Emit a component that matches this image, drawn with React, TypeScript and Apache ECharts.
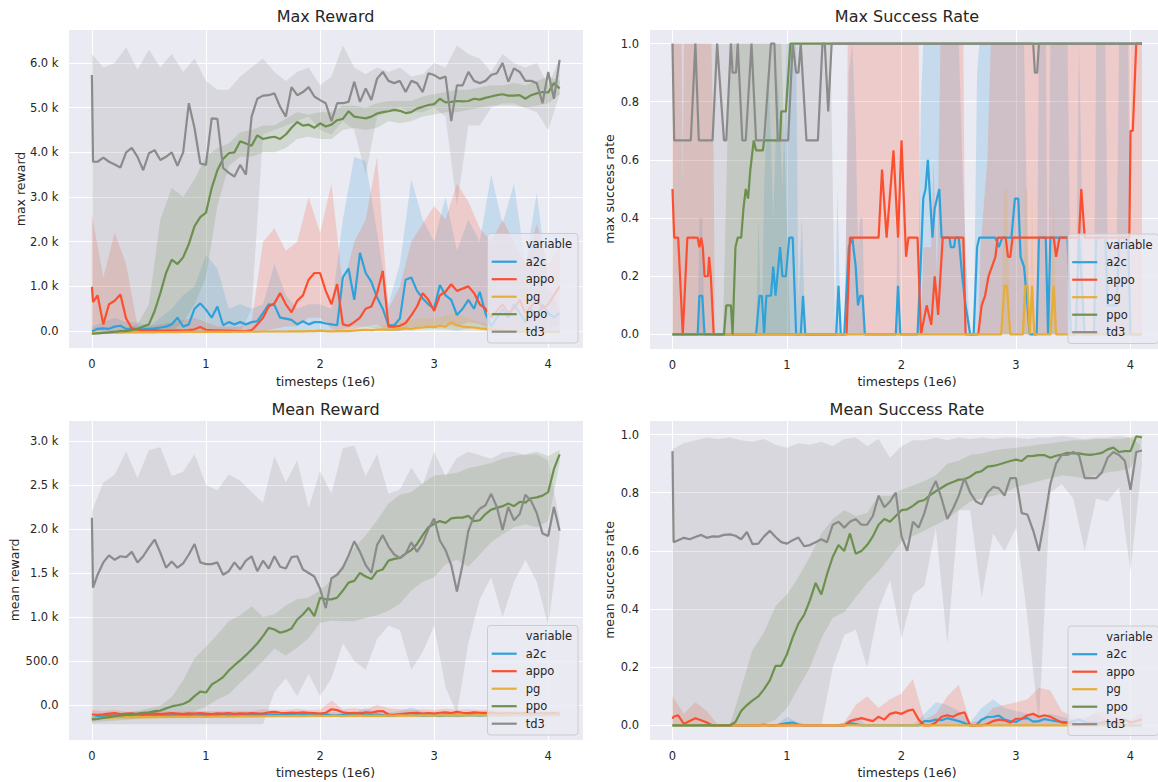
import React, { useEffect, useRef } from "react";
import * as echarts from "echarts";

// ---------- shared x grids (timesteps, 1e6) ----------
const T = [0, 0.01, 0.05, 0.1, 0.15, 0.2, 0.25, 0.3, 0.35, 0.4,
  0.45, 0.5, 0.55, 0.6, 0.65, 0.7, 0.75, 0.8, 0.85, 0.9,
  0.95, 1.0, 1.05, 1.1, 1.15, 1.2, 1.25, 1.3, 1.35, 1.4,
  1.45, 1.5, 1.55, 1.6, 1.65, 1.7, 1.75, 1.8, 1.85, 1.9,
  1.95, 2.0, 2.05, 2.1, 2.15, 2.2, 2.25, 2.3, 2.35, 2.4,
  2.45, 2.5, 2.55, 2.6, 2.65, 2.7, 2.75, 2.8, 2.85, 2.9,
  2.95, 3.0, 3.05, 3.1, 3.15, 3.2, 3.25, 3.3, 3.35, 3.4,
  3.45, 3.5, 3.55, 3.6, 3.65, 3.7, 3.75, 3.8, 3.85, 3.9,
  3.95, 4.0, 4.05, 4.1];
const TB = [0, 0.1, 0.2, 0.3, 0.4, 0.5, 0.6, 0.7, 0.8, 0.9,
  1.0, 1.1, 1.2, 1.3, 1.4, 1.5, 1.6, 1.7, 1.8, 1.9,
  2.0, 2.1, 2.2, 2.3, 2.4, 2.5, 2.6, 2.7, 2.8, 2.9,
  3.0, 3.1, 3.2, 3.3, 3.4, 3.5, 3.6, 3.7, 3.8, 3.9,
  4.0, 4.1];

const ALGOS = ["a2c", "appo", "pg", "ppo", "td3"];
const COLORS: Record<string, string> = { a2c: "#30a2da", appo: "#fc4f30", pg: "#e5ae38", ppo: "#6d904f", td3: "#8b8b8b" };
const TITLES = ["Max Reward", "Max Success Rate", "Mean Reward", "Mean Success Rate"];
const YLABELS = ["max reward", "max success rate", "mean reward", "mean success rate"];
const XLABEL = "timesteps (1e6)";

// ---------- Max Reward ----------
const maxRewardA2c = [0, 0, 50, 60, 50, 100, 120, 50, 50, 50,
  40, 50, 60, 80, 100, 150, 300, 100, 150, 500,
  620, 480, 300, 550, 130, 200, 150, 200, 150, 200,
  220, 400, 600, 580, 300, 280, 250, 150, 220, 150,
  200, 200, 170, 150, 130, 1200, 1400, 700, 1750, 1300,
  1100, 750, 500, 130, 130, 280, 1150, 1200, 900, 730,
  600, 500, 1030, 800, 700, 360, 500, 700, 500, 880,
  400, 100, 300, 500, 300, 600, 400, 200, 500, 300,
  600, 400, 300, 400];
const maxRewardAppo = [990, 650, 800, 150, 600, 680, 820, 280, 60, 30,
  20, 20, 20, 10, 10, 10, 15, 10, 20, 40,
  90, 30, 20, 15, 10, 10, 5, 0, 0, 20,
  150, 300, 550, 620, 850, 600, 420, 680, 800, 1150,
  1300, 1300, 900, 600, 1050, 150, 120, 200, 300, 500,
  550, 850, 1350, 100, 100, 120, 180, 350, 550, 850,
  700, 450, 800, 880, 1050, 900, 950, 1000, 850, 600,
  500, 300, 450, 600, 400, 500, 700, 400, 550, 700,
  500, 600, 800, 1000];
const maxRewardPg = [-40, -40, -40, -40, -35, -35, -35, -30, -30, -30,
  -30, -30, -30, -25, -25, -25, -25, -20, -20, -20,
  -20, -20, -20, -20, -20, -20, -15, -15, -15, -15,
  -15, -10, -10, -10, -10, -10, -5, -5, -5, 0,
  0, 10, 0, -5, 0, 0, 0, 10, 20, 30,
  20, 30, 40, 30, 40, 50, 60, 50, 70, 80,
  100, 90, 120, 100, 200, 130, 100, 90, 80, 60,
  50, 40, 30, 20, 0, 0, -10, -10, -20, -20,
  -20, -20, -20, -20];
const maxRewardPpo = [-60, -60, -50, -40, -30, -20, 0, 0, 20, 50,
  100, 150, 450, 850, 1300, 1600, 1500, 1650, 1950, 2350,
  2550, 2650, 3200, 3600, 3850, 3980, 4000, 4250, 4200, 4150,
  4380, 4300, 4330, 4350, 4300, 4400, 4550, 4680, 4600, 4620,
  4550, 4650, 4580, 4620, 4720, 4750, 4920, 4800, 4780, 4760,
  4800, 4870, 4900, 4920, 4950, 4930, 4880, 4900, 4980, 5020,
  5060, 5080, 5200, 5120, 5130, 5150, 5140, 5150, 5200, 5180,
  5220, 5250, 5280, 5300, 5270, 5270, 5280, 5200, 5280, 5320,
  5350, 5340, 5550, 5430];
const maxRewardTd3 = [5730, 3790, 3790, 3880, 3790, 3730, 3660, 4000, 4100, 3900,
  3600, 3980, 4050, 3830, 3900, 4000, 3700, 4000, 5100, 4540,
  3750, 3720, 4760, 4750, 3650, 3540, 3460, 3720, 3500, 4800,
  5200, 5270, 5280, 5320, 5020, 4800, 5460, 5280, 5350, 5460,
  5250, 5170, 5100, 4700, 5100, 5100, 5130, 5580, 5130, 5430,
  5170, 5650, 5800, 5600, 5550, 5600, 5350, 5600, 5550, 5350,
  5770, 5730, 5650, 5700, 4700, 5500, 5500, 5800, 5600, 5550,
  5600, 5730, 5770, 6000, 5580, 5880, 5800, 5600, 5600, 5550,
  5100, 5800, 5200, 6070];
// confidence bands (on TB)
const maxRewardA2cLo = [-30, -20, -10, -20, -20, -20, -20, 0, 0, 0,
  0, 0, 0, 0, 0, 0, 0, 0, 0, 0,
  0, 0, 50, 100, 100, 50, 0, 0, 100, 50,
  50, 50, 0, 50, 50, 0, 0, 0, 0, 0,
  0, 0];
const maxRewardA2cHi = [100, 200, 300, 200, 200, 100, 300, 500, 800, 1000,
  1700, 1400, 500, 600, 500, 600, 1500, 800, 500, 600,
  600, 500, 2500, 3900, 3800, 2200, 600, 1500, 3400, 2500,
  2000, 3000, 1800, 2500, 2000, 3500, 2400, 3300, 1500, 3100,
  1000, 500];
const maxRewardAppoLo = [0, 0, 0, 0, -20, -20, -20, -20, -20, -20,
  -20, -20, -20, -20, -20, 0, 50, 100, 100, 300,
  300, 50, 0, 50, 100, 150, 0, 0, 50, 100,
  100, 150, 100, 200, 150, 50, 50, 50, 50, 50,
  50, 100];
const maxRewardAppoHi = [2600, 1200, 2200, 1500, 100, 100, 150, 200, 250, 300,
  200, 100, 100, 100, 200, 2000, 2300, 1800, 2000, 3000,
  2200, 3300, 1000, 2000, 2500, 3900, 500, 1000, 2000, 2400,
  2800, 2500, 3300, 2900, 2300, 2000, 2500, 2000, 1500, 2400,
  1500, 1900];
const maxRewardPgLo = [-60, -60, -55, -50, -50, -45, -45, -45, -40, -40,
  -40, -40, -35, -35, -30, -30, -30, -30, -25, -20,
  -20, -20, -20, -10, -10, 0, 0, 10, 10, 20,
  30, 20, 20, 20, 0, -20, -30, -30, -40, -40,
  -40, -40];
const maxRewardPgHi = [-20, -20, -20, -15, -15, -10, -10, -10, -5, -5,
  0, 0, 0, 5, 5, 10, 10, 10, 20, 20,
  30, 40, 60, 80, 100, 120, 150, 200, 250, 300,
  280, 350, 400, 300, 200, 150, 100, 80, 60, 50,
  50, 40];
const maxRewardPpoLo = [-80, -60, -40, -20, 0, 0, 0, 0, 200, 600,
  1200, 2800, 3700, 3900, 3900, 4000, 4000, 4100, 4300, 4350,
  4300, 4300, 4500, 4550, 4500, 4550, 4700, 4650, 4700, 4800,
  4850, 4900, 4900, 4950, 5000, 5050, 5050, 5050, 5000, 5050,
  5100, 5300];
const maxRewardPpoHi = [-30, -10, 20, 50, 150, 600, 2500, 3200, 3000, 3400,
  3900, 4100, 4200, 4450, 4500, 4600, 4600, 4750, 4900, 4850,
  4900, 4900, 5050, 5050, 5000, 5100, 5150, 5150, 5150, 5250,
  5300, 5350, 5400, 5400, 5450, 5500, 5500, 5550, 5500, 5600,
  5700, 5600];
const maxRewardTd3Lo = [-50, -50, -50, -50, -50, -50, -50, -50, -50, -50,
  -50, -50, -50, -50, 500, 4400, 4500, 4600, 4700, 4800,
  4500, 4400, 4700, 4500, 3500, 4800, 4900, 5000, 4900, 4900,
  5000, 4800, 2800, 4600, 4600, 5000, 5100, 5100, 5000, 4900,
  4500, 5300];
const maxRewardTd3Hi = [6200, 5900, 6000, 6350, 5850, 6300, 5900, 6200, 5800, 6100,
  5600, 5400, 5400, 5700, 5900, 6100, 5800, 5600, 5800, 5900,
  5500, 5700, 6400, 5900, 5750, 5900, 5800, 5900, 5700, 5750,
  6000, 5900, 6400, 6200, 6100, 5800, 6200, 6000, 5900, 6000,
  5500, 6100];

// ---------- Max Success Rate (timestep, value) ----------
const maxSuccessA2c = [[0, 0], [0.22, 0], [0.235, 0.133], [0.26, 0.133], [0.28, 0], [0.73, 0], [0.76, 0.133], [0.78, 0.133], [0.8, 0], [0.82, 0.133], [0.86, 0.133], [0.88, 0.233], [0.9, 0.133], [0.94, 0.3], [0.96, 0.2], [0.99, 0.2], [1.02, 0.333], [1.05, 0.333], [1.08, 0], [1.12, 0], [1.14, 0.133], [1.16, 0], [1.43, 0], [1.45, 0.167], [1.47, 0], [1.5, 0], [1.54, 0.3], [1.57, 0.333], [1.6, 0.233], [1.62, 0.1], [1.64, 0.133], [1.66, 0.133], [1.68, 0], [1.95, 0], [1.97, 0.167], [1.99, 0], [2.14, 0], [2.17, 0.267], [2.19, 0.467], [2.21, 0.5], [2.23, 0.6], [2.25, 0.467], [2.27, 0.333], [2.29, 0.433], [2.31, 0.467], [2.33, 0.5], [2.35, 0.333], [2.42, 0.333], [2.43, 0.3], [2.46, 0.3], [2.47, 0.333], [2.5, 0.333], [2.53, 0.2], [2.56, 0.1], [2.6, 0], [2.63, 0], [2.66, 0.3], [2.68, 0.333], [2.82, 0.333], [2.85, 0.3], [2.88, 0.333], [2.96, 0.333], [2.99, 0.467], [3.02, 0.467], [3.04, 0.267], [3.07, 0.233], [3.1, 0.1], [3.12, 0], [3.18, 0], [3.2, 0.333], [3.26, 0.333], [3.28, 0], [3.3, 0.333], [3.45, 0.333], [3.48, 0], [3.52, 0], [3.55, 0.333], [3.6, 0], [3.68, 0], [3.7, 0.333], [3.78, 0.333], [3.8, 0.1], [3.88, 0.1], [3.9, 0.333], [3.98, 0.333], [4.0, 0], [4.1, 0]];
const maxSuccessAppo = [[0, 0.5], [0.015, 0.333], [0.05, 0.333], [0.09, 0], [0.13, 0.333], [0.22, 0.333], [0.235, 0.3], [0.25, 0.333], [0.265, 0.3], [0.28, 0.2], [0.31, 0.2], [0.32, 0.267], [0.335, 0.2], [0.36, 0], [1.52, 0], [1.55, 0.333], [1.8, 0.333], [1.83, 0.567], [1.87, 0.333], [1.93, 0.633], [1.97, 0.333], [2.0, 0.667], [2.04, 0.267], [2.06, 0.333], [2.14, 0.333], [2.17, 0], [2.22, 0.1], [2.26, 0.033], [2.29, 0.2], [2.32, 0.067], [2.36, 0.333], [2.54, 0.333], [2.56, 0], [2.67, 0], [2.7, 0.1], [2.73, 0.133], [2.76, 0.2], [2.79, 0.233], [2.82, 0.267], [2.84, 0.333], [2.91, 0.333], [2.93, 0.267], [2.95, 0.267], [2.97, 0.333], [3.33, 0.333], [3.35, 0.267], [3.38, 0.333], [3.55, 0.333], [3.57, 0.5], [3.6, 0.333], [3.99, 0.333], [4.0, 0.7], [4.02, 0.7], [4.05, 1], [4.1, 1]];
const maxSuccessPg = [[0, 0], [2.87, 0], [2.9, 0.167], [2.92, 0.167], [2.95, 0], [3.06, 0], [3.08, 0.167], [3.1, 0.167], [3.12, 0], [3.14, 0.167], [3.16, 0], [3.3, 0], [3.33, 0.167], [3.35, 0], [4.1, 0]];
const maxSuccessPpo = [[0, 0], [0.45, 0], [0.47, 0.1], [0.51, 0.1], [0.525, 0], [0.55, 0.3], [0.57, 0.333], [0.6, 0.333], [0.62, 0.433], [0.64, 0.5], [0.66, 0.467], [0.68, 0.567], [0.71, 0.667], [0.73, 0.633], [0.79, 0.633], [0.8, 0.667], [0.94, 0.667], [0.95, 0.767], [0.99, 0.767], [1.03, 1], [4.1, 1]];
const maxSuccessTd3 = [[0, 1], [0.015, 0.667], [0.16, 0.667], [0.2, 1], [0.23, 0.667], [0.35, 0.667], [0.39, 1], [0.45, 0.667], [0.47, 0.667], [0.51, 1], [0.525, 0.9], [0.555, 0.9], [0.57, 1], [0.61, 0.667], [0.64, 0.667], [0.69, 1], [0.73, 0.667], [0.8, 0.667], [0.86, 1], [0.89, 1], [0.92, 0.667], [1.01, 0.667], [1.05, 1], [1.08, 0.9], [1.1, 0.9], [1.12, 1], [1.17, 0.667], [1.27, 0.667], [1.31, 1], [1.33, 1], [1.36, 0.767], [1.39, 1], [3.15, 1], [3.165, 0.9], [3.185, 0.9], [3.2, 1], [4.1, 1]];
// upper edge of bands (lower edge is 0)
const maxSuccessA2cBand = [[0, 0], [0.22, 0], [0.235, 0.4], [0.26, 0.4], [0.28, 0], [0.73, 0], [0.75, 0.4], [0.78, 0], [0.8, 0.5], [0.84, 0.9], [0.88, 0.4], [0.92, 0.9], [0.96, 0.5], [1.0, 1], [1.08, 1], [1.1, 0.1], [1.13, 0.4], [1.16, 0], [1.42, 0], [1.44, 0.5], [1.47, 0], [1.5, 0], [1.54, 0.9], [1.57, 1], [1.6, 0.7], [1.62, 0.3], [1.64, 0.4], [1.66, 0.4], [1.68, 0], [1.95, 0], [1.97, 0.5], [1.99, 0], [2.14, 0], [2.17, 0.8], [2.19, 1], [2.5, 1], [2.53, 0.6], [2.56, 0.3], [2.6, 0], [2.63, 0], [2.66, 0.9], [2.68, 1], [3.07, 1], [3.1, 0.3], [3.12, 0], [3.18, 0], [3.2, 1], [3.26, 1], [3.28, 0], [3.3, 1], [3.45, 1], [3.48, 0], [3.52, 0], [3.55, 1], [3.6, 0], [3.68, 0], [3.7, 1], [3.78, 1], [3.8, 0.3], [3.88, 0.3], [3.9, 1], [3.98, 1], [4.0, 0], [4.1, 0]];
const maxSuccessAppoBand = [[0, 1], [0.08, 1], [0.09, 0.5], [0.1, 1], [0.34, 1], [0.36, 0.6], [0.37, 0], [1.51, 0], [1.53, 1], [2.15, 1], [2.17, 0], [2.19, 0.3], [2.26, 0.3], [2.28, 0.6], [2.31, 0.2], [2.34, 1], [2.54, 1], [2.56, 0], [2.67, 0], [2.69, 0.3], [2.75, 0.6], [2.78, 1], [4.1, 1]];
const maxSuccessPgBand = [[0, 0], [2.87, 0], [2.9, 0.5], [2.92, 0.5], [2.95, 0], [3.06, 0], [3.08, 0.5], [3.1, 0.5], [3.12, 0], [3.14, 0.5], [3.16, 0], [3.3, 0], [3.33, 0.5], [3.35, 0], [4.1, 0]];
const maxSuccessPpoBand = [[0, 0], [0.44, 0], [0.5, 1], [0.95, 1], [1.03, 0], [4.1, 0]];
const maxSuccessTd3Band = [[0, 1], [1.38, 1], [1.42, 0], [4.1, 0]];

// ---------- Mean Reward ----------
const meanRewardA2c = [-150, -150, -140, -130, -125, -120, -125, -120, -118, -122,
  -120, -118, -122, -115, -120, -118, -115, -120, -118, -122,
  -118, -115, -120, -118, -115, -120, -118, -115, -112, -118,
  -115, -118, -112, -110, -115, -112, -110, -115, -108, -112,
  -110, -115, -112, -118, -120, -115, -118, -112, -90, -120,
  -115, -110, -118, -125, -120, -115, -105, -95, -118, -122,
  -120, -118, -125, -120, -118, -122, -120, -115, -118, -120,
  -118, -115, -112, -118, -115, -110, -112, -115, -110, -112,
  -110, -112, -115, -110];
const meanRewardAppo = [-110, -110, -115, -108, -100, -95, -105, -100, -98, -110,
  -105, -100, -98, -105, -100, -95, -100, -105, -98, -100,
  -95, -100, -105, -98, -100, -95, -102, -98, -100, -95,
  -98, -100, -85, -80, -90, -95, -88, -92, -85, -90,
  -95, -100, -90, -50, -60, -85, -95, -90, -100, -85,
  -90, -75, -70, -110, -115, -105, -100, -95, -90, -100,
  -95, -100, -90, -85, -95, -80, -90, -95, -85, -90,
  -95, -92, -98, -100, -95, -98, -100, -95, -98, -100,
  -98, -100, -95, -100];
const meanRewardPg = [-150, -150, -150, -148, -145, -142, -140, -140, -142, -138,
  -140, -138, -140, -138, -136, -138, -135, -138, -136, -134,
  -135, -136, -134, -135, -132, -134, -133, -130, -132, -130,
  -131, -130, -128, -130, -127, -129, -128, -126, -128, -125,
  -126, -125, -127, -124, -126, -128, -125, -123, -125, -124,
  -126, -123, -125, -122, -124, -121, -123, -120, -122, -121,
  -120, -122, -119, -121, -118, -120, -117, -119, -118, -116,
  -118, -115, -117, -116, -114, -116, -115, -113, -115, -114,
  -113, -115, -112, -114];
const meanRewardPpo = [-165, -165, -160, -150, -140, -130, -122, -115, -105, -100,
  -92, -85, -72, -65, -40, -18, -5, 10, 40, 99,
  150, 140, 231, 270, 315, 390, 451, 505, 565, 630,
  698, 782, 876, 857, 820, 838, 869, 971, 1028, 1104,
  1009, 1218, 1200, 1200, 1220, 1300, 1390, 1410, 1500, 1460,
  1430, 1520, 1540, 1640, 1660, 1670, 1720, 1760, 1830, 1930,
  2020, 2060, 2090, 2070, 2120, 2130, 2130, 2150, 2090, 2100,
  2170, 2220, 2240, 2260, 2290, 2260, 2310, 2300, 2350, 2360,
  2380, 2420, 2680, 2850];
const meanRewardTd3 = [2128, 1332, 1480, 1620, 1700, 1650, 1690, 1680, 1740, 1620,
  1690, 1790, 1880, 1730, 1560, 1630, 1560, 1610, 1710, 1830,
  1620, 1600, 1600, 1620, 1480, 1520, 1620, 1540, 1640, 1690,
  1520, 1640, 1550, 1690, 1570, 1550, 1680, 1690, 1540, 1500,
  1460, 1320, 1100, 1440, 1480, 1560, 1700, 1860, 1740, 1590,
  1500, 1820, 1930, 1800, 1710, 1670, 1720, 1850, 1740, 1840,
  2000, 2120, 1870, 1760, 1590, 1290, 1600, 1980, 2150, 2230,
  2270, 2400, 2250, 1990, 2250, 2100, 2170, 2390, 2320, 2180,
  1950, 1920, 2250, 1980];
const meanRewardA2cLo = [-175, -150, -145, -145, -140, -140, -140, -138, -140, -140,
  -140, -138, -135, -135, -135, -132, -130, -130, -130, -128,
  -130, -135, -135, -135, -140, -140, -145, -140, -140, -140,
  -142, -140, -140, -138, -140, -138, -135, -135, -132, -135,
  -135, -135];
const meanRewardA2cHi = [-120, -100, -95, -95, -95, -92, -95, -90, -92, -95,
  -92, -90, -92, -88, -90, -85, -85, -88, -85, -88,
  -85, -85, -88, -85, -40, -80, -85, -70, -30, -80,
  -85, -80, -90, -85, -80, -60, -85, -80, -85, -85,
  -85, -85];
const meanRewardAppoLo = [-130, -125, -120, -125, -125, -122, -122, -120, -122, -120,
  -120, -118, -118, -118, -115, -118, -112, -115, -110, -115,
  -115, -110, -105, -112, -115, -130, -135, -125, -120, -118,
  -115, -115, -112, -118, -115, -118, -120, -118, -118, -120,
  -118, -120];
const meanRewardAppoHi = [-60, -70, -60, -80, -75, -78, -72, -75, -75, -70,
  -70, -72, -70, -68, -70, -50, -55, -60, -45, -60,
  -55, 50, -50, -40, -55, 0, -40, -50, -55, -50,
  -60, -45, -55, -50, -60, -55, -65, -70, -70, -65,
  -70, -65];
const meanRewardPgLo = [-175, -165, -162, -160, -158, -156, -155, -155, -152, -152,
  -150, -150, -148, -148, -146, -146, -145, -145, -144, -144,
  -143, -142, -142, -140, -140, -140, -138, -138, -137, -136,
  -136, -135, -134, -134, -133, -133, -132, -132, -131, -130,
  -130, -130];
const meanRewardPgHi = [-135, -125, -125, -122, -120, -120, -118, -118, -116, -116,
  -115, -115, -114, -112, -112, -110, -110, -108, -108, -106,
  -106, -105, -105, -104, -103, -102, -102, -101, -100, -100,
  -99, -98, -98, -97, -97, -96, -96, -95, -95, -94,
  -94, -94];
const meanRewardPpoLo = [-200, -190, -180, -170, -160, -150, -140, -125, -110, -70,
  -20, 60, 120, 250, 370, 500, 640, 560, 650, 760,
  930, 960, 950, 950, 990, 1020, 1070, 1150, 1300, 1400,
  1450, 1600, 1650, 1570, 1710, 1850, 1940, 2020, 2050, 2020,
  2090, 2750];
const meanRewardPpoHi = [-130, -120, -110, -90, -70, -40, -10, 90, 280, 530,
  660, 800, 950, 1020, 1120, 1000, 1030, 1130, 1200, 1220,
  1300, 1420, 1600, 1790, 1930, 2100, 2290, 2390, 2420, 2520,
  2610, 2620, 2640, 2690, 2720, 2750, 2800, 2830, 2850, 2880,
  2830, 2900];
const meanRewardTd3Lo = [-220, -220, -220, -220, -220, -220, -220, -220, -220, -220,
  -220, -220, -220, -220, -220, -220, 150, 300, 100, 350,
  100, 300, 700, 500, 400, 750, 900, 850, 400, 600,
  900, 200, -100, 700, 1200, 1450, 1000, 1400, 1650, 1400,
  900, 1900];
const meanRewardTd3Hi = [2200, 2530, 2620, 2880, 2580, 2900, 2930, 2600, 2650, 2850,
  2500, 2440, 2620, 2550, 2420, 2300, 2830, 2530, 2780, 2240,
  2660, 2400, 2920, 2950, 2600, 2850, 2400, 2450, 2700, 2500,
  2880, 2600, 2810, 2880, 2840, 2800, 2870, 2880, 2840, 2850,
  2780, 2100];

// ---------- Mean Success Rate ----------
const meanSuccessA2c = [0, 0, 0, 0, 0, 0, 0, 0, 0, 0,
  0, 0, 0, 0, 0, 0, 0, 0.003, 0, 0,
  0.005, 0.008, 0.01, 0.003, 0, 0, 0, 0, 0, 0,
  0, 0, 0.008, 0.005, 0, 0, 0, 0, 0, 0,
  0, 0, 0, 0, 0, 0.015, 0.015, 0.02, 0.018, 0.025,
  0.02, 0.015, 0.008, 0, 0, 0.02, 0.029, 0.03, 0.034, 0.02,
  0.015, 0.012, 0.023, 0.025, 0.013, 0.015, 0.022, 0.018, 0.015, 0.012,
  0.01, 0.015, 0.02, 0.012, 0.008, 0.01, 0.005, 0.008, 0.004, 0.003,
  0.002, 0, 0, 0];
const meanSuccessAppo = [0.023, 0.03, 0.035, 0.005, 0.015, 0.025, 0.018, 0.01, 0, 0,
  0, 0, 0, 0, 0, 0, 0, 0, 0, 0,
  0, 0, 0, 0, 0, 0, 0, 0, 0, 0,
  0, 0, 0.015, 0.02, 0.025, 0.02, 0.015, 0.03, 0.02, 0.04,
  0.045, 0.04, 0.05, 0.055, 0.02, 0, 0, 0.01, 0.03, 0.035,
  0.03, 0.04, 0.045, 0, 0, 0, 0.005, 0.015, 0.02, 0.017,
  0.01, 0.023, 0.023, 0.035, 0.04, 0.03, 0.035, 0.03, 0.02, 0.01,
  0.01, 0.005, 0, 0.005, 0.01, 0, 0.01, 0.015, 0.005, 0.01,
  0.02, 0.01, 0.015, 0.02];
const meanSuccessPg = [[0, 0], [4.1, 0]];
const meanSuccessPpo = [0, 0, 0, 0, 0, 0, 0, 0, 0, 0,
  0, 0, 0.012, 0.05, 0.07, 0.086, 0.1, 0.125, 0.155, 0.205,
  0.205, 0.245, 0.303, 0.35, 0.38, 0.43, 0.49, 0.45, 0.52, 0.58,
  0.62, 0.6, 0.66, 0.59, 0.6, 0.62, 0.65, 0.69, 0.71, 0.7,
  0.72, 0.74, 0.743, 0.755, 0.77, 0.775, 0.792, 0.805, 0.817, 0.829,
  0.837, 0.845, 0.846, 0.855, 0.869, 0.874, 0.89, 0.892, 0.897, 0.903,
  0.909, 0.914, 0.909, 0.926, 0.927, 0.929, 0.929, 0.92, 0.927, 0.931,
  0.937, 0.935, 0.935, 0.932, 0.93, 0.933, 0.937, 0.949, 0.955, 0.94,
  0.943, 0.943, 0.994, 0.99];
const meanSuccessTd3 = [0.943, 0.63, 0.637, 0.645, 0.64, 0.648, 0.655, 0.645, 0.65, 0.649,
  0.655, 0.657, 0.652, 0.64, 0.665, 0.623, 0.625, 0.65, 0.669, 0.648,
  0.63, 0.625, 0.637, 0.646, 0.616, 0.62, 0.63, 0.64, 0.63, 0.69,
  0.7, 0.68, 0.7, 0.71, 0.69, 0.69, 0.72, 0.79, 0.75, 0.77,
  0.8, 0.65, 0.6, 0.7, 0.68, 0.73, 0.8, 0.84, 0.78, 0.71,
  0.745, 0.79, 0.85, 0.8, 0.77, 0.76, 0.8, 0.82, 0.815, 0.79,
  0.85, 0.85, 0.73, 0.725, 0.67, 0.6, 0.71, 0.83, 0.9, 0.93,
  0.93, 0.94, 0.93, 0.85, 0.85, 0.85, 0.87, 0.92, 0.94, 0.93,
  0.91, 0.81, 0.94, 0.945];
const meanSuccessA2cHi = [0, 0, 0, 0, 0, 0, 0, 0, 0, 0,
  0.03, 0.01, 0, 0, 0, 0.01, 0.03, 0, 0, 0,
  0, 0, 0.04, 0.08, 0.07, 0.05, 0.01, 0.06, 0.09, 0.06,
  0.05, 0.04, 0.03, 0.04, 0.03, 0.02, 0.03, 0.04, 0.02, 0.01,
  0, 0];
const meanSuccessAppoHi = [0.1, 0.04, 0.08, 0.05, 0, 0, 0, 0, 0, 0,
  0, 0, 0, 0, 0, 0.01, 0.07, 0.1, 0.06, 0.09,
  0.11, 0.16, 0.02, 0.04, 0.1, 0.14, 0.01, 0.02, 0.06, 0.07,
  0.08, 0.09, 0.13, 0.12, 0.05, 0.03, 0.02, 0.05, 0.04, 0.03,
  0.02, 0.045];
const meanSuccessPpoLo = [0, 0, 0, 0, 0, 0, 0, 0, 0.005, 0.02,
  0.06, 0.13, 0.2, 0.3, 0.37, 0.39, 0.44, 0.49, 0.53, 0.58,
  0.63, 0.65, 0.67, 0.69, 0.71, 0.74, 0.77, 0.78, 0.79, 0.8,
  0.82, 0.83, 0.84, 0.85, 0.86, 0.855, 0.85, 0.86, 0.87, 0.875,
  0.885, 0.97];
const meanSuccessPpoHi = [0, 0, 0, 0, 0, 0, 0.13, 0.26, 0.32, 0.41,
  0.45, 0.51, 0.58, 0.66, 0.71, 0.74, 0.72, 0.73, 0.79, 0.79,
  0.81, 0.825, 0.84, 0.86, 0.9, 0.91, 0.93, 0.935, 0.945, 0.95,
  0.955, 0.96, 0.965, 0.97, 0.975, 0.98, 0.98, 0.985, 0.985, 0.985,
  0.99, 1.0];
const meanSuccessTd3Lo = [0, 0, 0, 0, 0, 0, 0, 0, 0, 0,
  0, 0, 0, 0, 0.2, 0.31, 0.33, 0.2, 0.4, 0.5,
  0.3, 0.45, 0.48, 0.68, 0.28, 0.74, 0.74, 0.44, 0.66, 0.6,
  0.68, 0.37, 0.006, 0.8, 0.83, 0.78, 0.6, 0.78, 0.77, 0.82,
  0.53, 0.9];
const meanSuccessTd3Hi = [0.95, 0.97, 0.98, 0.99, 0.985, 0.99, 0.98, 0.975, 0.985, 0.965,
  0.955, 0.97, 0.965, 0.975, 0.96, 0.985, 0.99, 0.96, 0.985, 0.92,
  0.96, 0.98, 0.98, 0.99, 0.98, 0.99, 0.985, 0.99, 0.985, 0.99,
  0.99, 0.985, 0.99, 0.99, 0.995, 0.99, 0.985, 0.99, 0.99, 0.995,
  0.99, 0.96];

// ---------- helpers ----------
const FONT = "DejaVu Sans";
const TXT = "#262626";
const zip = (xs: number[], ys: number[]) => xs.map((x, i) => [x, ys[i]]);
const rgba = (hex: string, a: number) => {
  const n = parseInt(hex.slice(1), 16);
  return `rgba(${(n >> 16) & 255},${(n >> 8) & 255},${n & 255},${a})`;
};

function lineSeries(gi: number, algo: string, data: number[][]) {
  return {
    type: "line", name: algo, xAxisIndex: gi, yAxisIndex: gi, data,
    symbol: "none", showSymbol: false, silent: true, z: 3,
    lineStyle: { width: 2.2, color: COLORS[algo] }, itemStyle: { color: COLORS[algo] },
  };
}
// band between hi and lo (lo defaults to the zero baseline)
function bandSeries(gi: number, algo: string, hi: number[][], lo?: number[][]) {
  const lower = lo || [[hi[0][0], 0], [hi[hi.length - 1][0], 0]];
  return {
    type: "custom", name: algo + "-band", xAxisIndex: gi, yAxisIndex: gi, silent: true, z: 1, clip: true,
    data: [hi[0]],
    renderItem: (_params: any, api: any) => {
      const pts: number[][] = [];
      for (let i = 0; i < hi.length; i++) pts.push(api.coord(hi[i]));
      for (let i = lower.length - 1; i >= 0; i--) pts.push(api.coord(lower[i]));
      return { type: "polygon", shape: { points: pts }, style: { fill: rgba(COLORS[algo], 0.2), stroke: "none" } };
    },
  };
}

const PANELS = [
  {
    lines: { a2c: zip(T, maxRewardA2c), appo: zip(T, maxRewardAppo), pg: zip(T, maxRewardPg), ppo: zip(T, maxRewardPpo), td3: zip(T, maxRewardTd3) } as Record<string, number[][]>,
    bands: [
      ["a2c", zip(TB, maxRewardA2cHi), zip(TB, maxRewardA2cLo)],
      ["appo", zip(TB, maxRewardAppoHi), zip(TB, maxRewardAppoLo)],
      ["pg", zip(TB, maxRewardPgHi), zip(TB, maxRewardPgLo)],
      ["ppo", zip(TB, maxRewardPpoHi), zip(TB, maxRewardPpoLo)],
      ["td3", zip(TB, maxRewardTd3Hi), zip(TB, maxRewardTd3Lo)],
    ] as any[],
  },
  {
    lines: { a2c: maxSuccessA2c, appo: maxSuccessAppo, pg: maxSuccessPg, ppo: maxSuccessPpo, td3: maxSuccessTd3 } as Record<string, number[][]>,
    bands: [
      ["a2c", maxSuccessA2cBand], ["appo", maxSuccessAppoBand], ["pg", maxSuccessPgBand],
      ["ppo", maxSuccessPpoBand], ["td3", maxSuccessTd3Band],
    ] as any[],
  },
  {
    lines: { a2c: zip(T, meanRewardA2c), appo: zip(T, meanRewardAppo), pg: zip(T, meanRewardPg), ppo: zip(T, meanRewardPpo), td3: zip(T, meanRewardTd3) } as Record<string, number[][]>,
    bands: [
      ["a2c", zip(TB, meanRewardA2cHi), zip(TB, meanRewardA2cLo)],
      ["appo", zip(TB, meanRewardAppoHi), zip(TB, meanRewardAppoLo)],
      ["pg", zip(TB, meanRewardPgHi), zip(TB, meanRewardPgLo)],
      ["ppo", zip(TB, meanRewardPpoHi), zip(TB, meanRewardPpoLo)],
      ["td3", zip(TB, meanRewardTd3Hi), zip(TB, meanRewardTd3Lo)],
    ] as any[],
  },
  {
    lines: { a2c: zip(T, meanSuccessA2c), appo: zip(T, meanSuccessAppo), pg: meanSuccessPg, ppo: zip(T, meanSuccessPpo), td3: zip(T, meanSuccessTd3) } as Record<string, number[][]>,
    bands: [
      ["a2c", zip(TB, meanSuccessA2cHi)],
      ["appo", zip(TB, meanSuccessAppoHi)],
      ["ppo", zip(TB, meanSuccessPpoHi), zip(TB, meanSuccessPpoLo)],
      ["td3", zip(TB, meanSuccessTd3Hi), zip(TB, meanSuccessTd3Lo)],
    ] as any[],
  },
];

// layout (pixels)
const GRIDS = [
  { left: 68.5, top: 29.5, width: 514.5, height: 319, xmax: 4.305, ymin: -390, ymax: 6750, split: 7, kind: "reward" },
  { left: 649, top: 29, width: 509, height: 320, xmax: 4.24, ymin: -0.05, ymax: 1.05, split: 6, kind: "rate" },
  { left: 68.5, top: 420, width: 514.5, height: 320, xmax: 4.305, ymin: -400, ymax: 3240, split: 7, kind: "reward" },
  { left: 649, top: 420, width: 509, height: 320, xmax: 4.24, ymin: -0.05, ymax: 1.05, split: 6, kind: "rate" },
];
const TITLE_POS = [[325.5, 16.5], [907, 16.5], [325.5, 409], [907, 409]];
const XLABEL_POS = [[325.5, 381], [907, 381], [325.5, 772], [907, 772]];
const YLABEL_POS = [[20, 189], [609.5, 189], [14, 580], [609.5, 580]];
const LEGEND_POS = [[487.5, 233.5], [1068, 234], [487.5, 625.5], [1068, 626]];

const rewardFmt = (v: number) => {
  if (Math.abs(v / 500 - Math.round(v / 500)) > 1e-6) return "";
  if (Math.abs(v) >= 1000) return (v / 1000).toFixed(1) + " k";
  return (v === 0 ? 0 : v).toFixed(1);
};
const rateFmt = (v: number) => (Math.abs(v * 5 - Math.round(v * 5)) > 1e-6 ? "" : (Math.round(v * 5) / 5).toFixed(1));
const xFmt = (v: number) => (Math.abs(v - Math.round(v)) > 1e-6 ? "" : String(Math.round(v)));

function txt(x: number, y: number, s: string, size: number, rot = 0, align = "center") {
  return {
    type: "text", x, y, rotation: rot, z: 100, silent: true,
    style: { text: s, fill: TXT, fontSize: size, fontFamily: FONT, align, verticalAlign: "middle", textAlign: align, textVerticalAlign: "middle" },
  };
}

function buildOption() {
  const grid = GRIDS.map((g) => ({ left: g.left, top: g.top, width: g.width, height: g.height, show: true, backgroundColor: "#EAEAF2", borderWidth: 0, containLabel: false, outerBoundsMode: "none" }));
  const xAxis = GRIDS.map((g, i) => ({
    gridIndex: i, type: "value", min: -0.205, max: g.xmax, splitNumber: 5,
    axisLine: { show: false }, axisTick: { show: false },
    splitLine: { show: true, lineStyle: { color: "#ffffff", width: 1 } },
    axisLabel: { color: TXT, fontSize: 11.5, fontFamily: FONT, margin: 9.5, formatter: xFmt },
  }));
  const yAxis = GRIDS.map((g, i) => ({
    gridIndex: i, type: "value", min: g.ymin, max: g.ymax, splitNumber: g.split,
    axisLine: { show: false }, axisTick: { show: false },
    splitLine: { show: true, lineStyle: { color: "#ffffff", width: 1 } },
    axisLabel: { color: TXT, fontSize: 11.5, fontFamily: FONT, margin: 10, formatter: g.kind === "reward" ? rewardFmt : rateFmt },
  }));

  const series: any[] = [];
  PANELS.forEach((p, gi) => {
    p.bands.forEach((b: any[]) => series.push(bandSeries(gi, b[0], b[1], b[2])));
  });
  PANELS.forEach((p, gi) => {
    ALGOS.forEach((a) => series.push(lineSeries(gi, a, p.lines[a])));
  });

  const graphics: any[] = [];
  for (let i = 0; i < 4; i++) {
    graphics.push(txt(TITLE_POS[i][0], TITLE_POS[i][1], TITLES[i], 16));
    graphics.push(txt(XLABEL_POS[i][0], XLABEL_POS[i][1], XLABEL, 12.5));
    graphics.push(txt(YLABEL_POS[i][0], YLABEL_POS[i][1], YLABELS[i], 12.5, Math.PI / 2));
    const [lx, ly] = LEGEND_POS[i];
    graphics.push({
      type: "rect", z: 99, silent: true,
      shape: { x: lx, y: ly, width: 90.5, height: 109.5, r: 3 },
      style: { fill: "rgba(234,234,242,0.8)", stroke: "#cccccc", lineWidth: 1 },
    });
    graphics.push(txt(lx + 38.2, ly + 10.8, "variable", 11.5, 0, "left"));
    ALGOS.forEach((a, k) => {
      const yy = ly + 28.2 + k * 17.5;
      graphics.push({ type: "line", z: 100, silent: true, shape: { x1: lx + 4.2, y1: yy, x2: lx + 29.2, y2: yy }, style: { stroke: COLORS[a], lineWidth: 2.2 } });
      graphics.push(txt(lx + 38.2, yy, a, 11.5, 0, "left"));
    });
  }

  return {
    animation: false,
    backgroundColor: "#ffffff",
    textStyle: { fontFamily: FONT },
    grid, xAxis, yAxis, series,
    graphic: { elements: graphics },
  };
}

export default function App() {
  const ref = useRef<HTMLDivElement>(null);
  useEffect(() => {
    document.body.style.margin = "0";
    const chart = echarts.init(ref.current!, undefined, { renderer: "svg" });
    chart.setOption(buildOption() as any);
    return () => chart.dispose();
  }, []);
  return <div ref={ref} style={{ position: "absolute", left: 0, top: 0, width: 1158, height: 782 }} />;
}
